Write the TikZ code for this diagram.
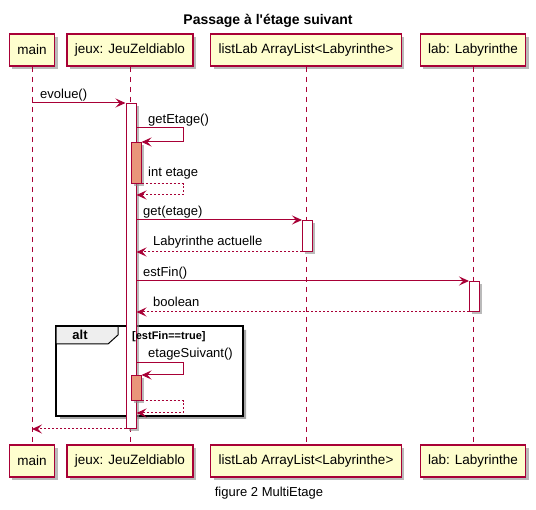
\documentclass[tikz,border=0pt]{standalone}
\usepackage{fontspec}
\setmainfont{Liberation Sans}
\newfontfamily\plainfont{Liberation Sans}
\usetikzlibrary{shadows,arrows.meta}
\definecolor{umlred}{HTML}{A80036}
\definecolor{umlbox}{HTML}{FEFECE}
\definecolor{umlsalmon}{HTML}{E9967A}
\definecolor{umltab}{HTML}{EEEEEE}

\begin{document}
\begin{tikzpicture}[x=1pt,y=-1pt,
    actor/.style={draw=umlred,fill=umlbox,line width=1.1pt,minimum height=32pt,inner xsep=8pt,
      font=\fontsize{13.5}{15}\selectfont,
      drop shadow={shadow xshift=3pt,shadow yshift=-3pt,fill=black!45,opacity=.6}},
    actbar/.style={draw=umlred,fill=white,line width=1pt,minimum width=10pt,inner sep=0pt,anchor=north,
      drop shadow={shadow xshift=2.5pt,shadow yshift=-2.5pt,fill=black!45,opacity=.6}},
    subbar/.style={actbar,fill=umlsalmon},
    life/.style={draw=umlred,line width=1pt,dash pattern=on 5pt off 5pt},
    msg/.style={draw=umlred,line width=1pt,-{Stealth[length=10pt,width=9pt,inset=4pt]}},
    ret/.style={msg,dash pattern=on 2pt off 2pt},
    lbl/.style={anchor=base west,inner sep=0pt,font=\fontsize{13}{15}\selectfont}]
  \useasboundingbox (0,0) rectangle (536,510);

  % Title
  \node[font=\plainfont\bfseries\fontsize{14}{16}\selectfont,anchor=base] (title) at (268,25) {Passage à l'étage suivant};

  % Participants (top and bottom)
  \node[actor] (mainT) at (32,50) {main};
  \node[actor] (jeuxT) at (130,50) {jeux: JeuZeldiablo};
  \node[actor] (listT) at (306,50) {listLab ArrayList<Labyrinthe>};
  \node[actor] (labT) at (473,50) {lab: Labyrinthe};
  \node[actor] (mainB) at (32,461) {main};
  \node[actor] (jeuxB) at (130,461) {jeux: JeuZeldiablo};
  \node[actor] (listB) at (306,461) {listLab ArrayList<Labyrinthe>};
  \node[actor] (labB) at (473,461) {lab: Labyrinthe};

  % Lifelines
  \draw[life] (mainT) -- (mainB);
  \draw[life] (jeuxT) -- (jeuxB);
  \draw[life] (listT) -- (listB);
  \draw[life] (labT) -- (labB);

  % alt frame
  \fill[black!35] (243,330) rectangle (246,419) (60,416) rectangle (246,419);
  \draw[line width=2pt] (56,326) rectangle (243,416);
  \draw[line width=1pt,fill=umltab] (56,326) -- (118,326) -- (118,335) -- (108,344) -- (56,344) -- cycle;
  \draw[line width=2pt] (56,326) -- (118,326);
  \node[font=\bfseries\fontsize{13}{15}\selectfont,anchor=base] (altTag) at (80,340) {alt};

  % Activations
  \node[actbar,minimum height=325pt] (jeuxAct) at (131,103) {};
  \node[subbar,minimum height=41pt] (getAct) at (136,142) {};
  \node[actbar,minimum height=31pt] (listAct) at (307.5,220) {};
  \node[actbar,minimum height=30pt] (labAct) at (474.5,281) {};
  \node[subbar,minimum height=25pt] (suivAct) at (136,375) {};

  \node[font=\bfseries\fontsize{11}{13}\selectfont,anchor=base west,inner sep=0pt] (altCond) at (132,340) {[estFin==true]};

  % Messages
  \draw[msg] (mainT |- jeuxAct.north) -- (jeuxAct.north west);
  \node[lbl] (lEvolue) at (40,99) {evolue()};

  \coordinate (g1) at (183,128);
  \draw[msg] (jeuxAct.east |- g1) -- (g1) |- (getAct.north east);
  \node[lbl] (lGet) at (148,124) {getEtage()};
  \coordinate (r1) at (183,195);
  \draw[ret] (getAct.south east) -| (r1) -- (jeuxAct.east |- r1);
  \node[lbl] (lInt) at (148,177) {int etage};

  \draw[msg] (jeuxAct.east |- listAct.north) -- (listAct.north west);
  \node[lbl] (lGetE) at (143,216) {get(etage)};
  \draw[ret] (listAct.south west) -- (jeuxAct.east |- listAct.south);
  \node[lbl] (lLaby) at (153,246) {Labyrinthe actuelle};

  \draw[msg] (jeuxAct.east |- labAct.north) -- (labAct.north west);
  \node[lbl] (lFin) at (143,277) {estFin()};
  \draw[ret] (labAct.south west) -- (jeuxAct.east |- labAct.south);
  \node[lbl] (lBool) at (153,307) {boolean};

  \coordinate (s1) at (183,363);
  \draw[msg] (jeuxAct.east |- s1) -- (s1) |- (suivAct.north east);
  \node[lbl] (lSuiv) at (148,358) {etageSuivant()};
  \coordinate (r2) at (183,413);
  \draw[ret] (suivAct.south east) -| (r2) -- (jeuxAct.east |- r2);

  \draw[ret] (jeuxAct.south west) -- (mainT |- jeuxAct.south);

  % Caption
  \node[font=\fontsize{13}{15}\selectfont,anchor=base] (caption) at (269,497) {figure 2 MultiEtage};
\end{tikzpicture}
\end{document}
